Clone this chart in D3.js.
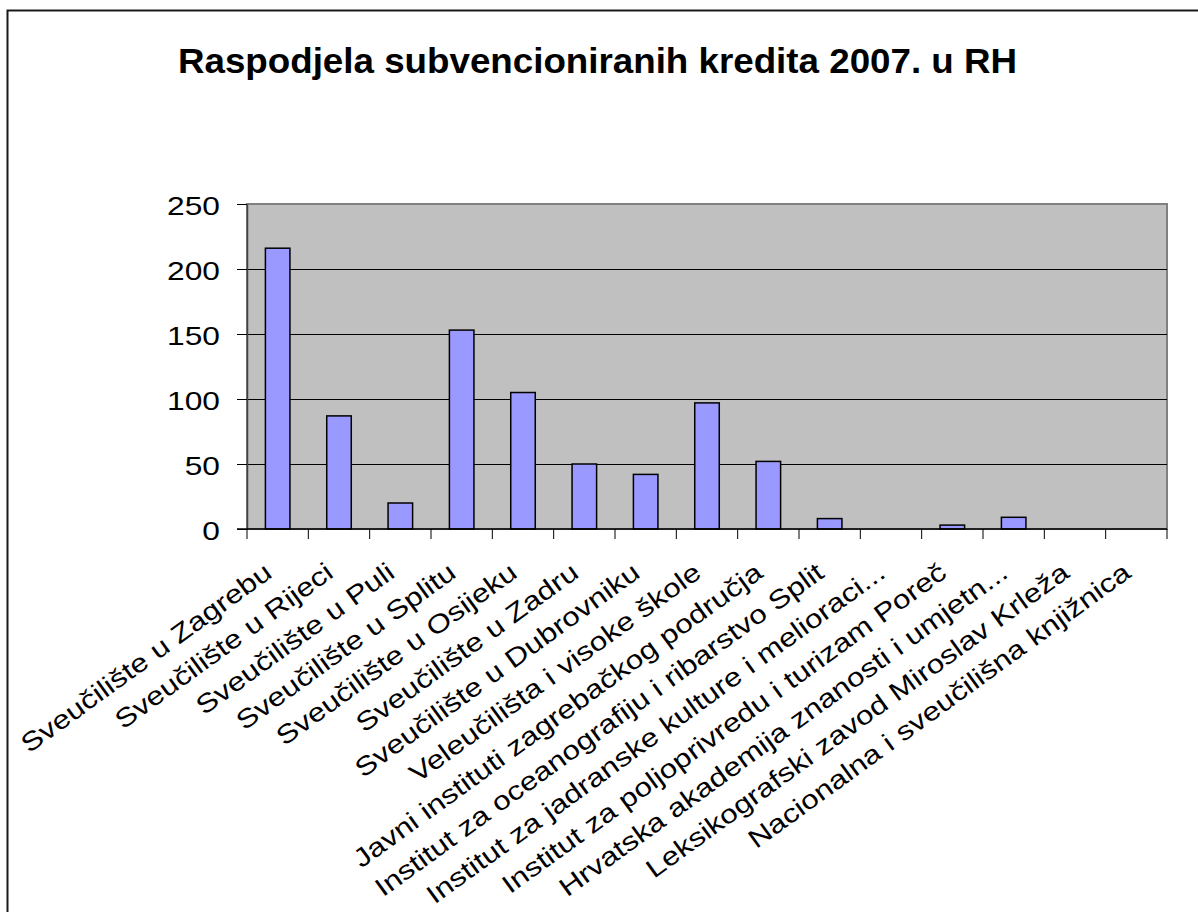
<!DOCTYPE html>
<html>
<head>
<meta charset="utf-8">
<script src="https://cdn.jsdelivr.net/npm/d3@7"></script>
<style>
  html, body { margin: 0; padding: 0; background: #fff; }
  text { font-family: "Liberation Sans", Arial, sans-serif; }
</style>
</head>
<body>
<div id="svg-container"></div>
<script>
// chart data
const chartTitle = "Raspodjela subvencioniranih kredita 2007. u RH";
const categories = [
  "Sveučilište u Zagrebu",
  "Sveučilište u Rijeci",
  "Sveučilište u Puli",
  "Sveučilište u Splitu",
  "Sveučilište u Osijeku",
  "Sveučilište u Zadru",
  "Sveučilište u Dubrovniku",
  "Veleučilišta i visoke škole",
  "Javni instituti zagrebačkog područja",
  "Institut za oceanografiju i ribarstvo Split",
  "Institut za jadranske kulture i melioraci...",
  "Institut za poljoprivredu i turizam Poreč",
  "Hrvatska akademija znanosti i umjetn...",
  "Leksikografski zavod Miroslav Krleža",
  "Nacionalna i sveučilišna knjižnica"
];
const values = [216, 87, 20, 153, 105, 50, 42, 97, 52, 8, 0, 3, 9, 0, 0];
const yTicks = [0, 50, 100, 150, 200, 250];

const totalWidth = 1198;
const totalHeight = 912;
const margin = {top: 204, right: 31, bottom: 383, left: 247};
const width = totalWidth - margin.left - margin.right;
const height = totalHeight - margin.top - margin.bottom;

const svg = d3.select("#svg-container")
              .append("svg")
              .attr("width", totalWidth)
              .attr("height", totalHeight);

// outer chart border
svg.append("rect")
   .attr("x", 7.5)
   .attr("y", 10.5)
   .attr("width", 1200)
   .attr("height", 1000)
   .attr("fill", "#fff")
   .attr("stroke", "#1a1a1a")
   .attr("stroke-width", 2);

svg.append("text")
   .attr("transform", "translate(597.5, 73) scale(1.05, 1)")
   .attr("text-anchor", "middle")
   .style("font-size", "35px")
   .style("font-weight", "bold")
   .text(chartTitle);

const g = svg.append("g")
             .attr("transform", `translate(${margin.left}, ${margin.top})`);

const x = d3.scaleBand()
            .domain(categories)
            .range([0, width])
            .paddingInner(0.6)
            .paddingOuter(0.3);

// band without padding, used for the category ticks
const xTick = d3.scaleBand()
                .domain(categories)
                .range([0, width]);

const y = d3.scaleLinear()
            .domain([0, 250])
            .range([height, 0]);

// plot background
g.append("rect")
 .attr("width", width)
 .attr("height", height)
 .attr("fill", "#c0c0c0")
 .attr("stroke", "#808080")
 .attr("stroke-width", 2);

// gridlines
g.append("g")
 .selectAll("line")
 .data(yTicks.filter(d => d > 0 && d < 250))
 .enter()
 .append("line")
 .attr("x1", 0)
 .attr("x2", width)
 .attr("y1", d => Math.round(y(d)) + 0.5)
 .attr("y2", d => Math.round(y(d)) + 0.5)
 .attr("stroke", "#000")
 .attr("stroke-width", 1);

// y axis
const yAxis = g.append("g")
               .call(d3.axisLeft(y).tickValues(yTicks).tickSize(10).tickSizeOuter(0));
yAxis.select(".domain").attr("stroke", "#404040").attr("stroke-width", 1.5);
yAxis.selectAll(".tick line").attr("stroke", "#000");
yAxis.selectAll(".tick text")
     .attr("fill", "#000")
     .attr("x", 0)
     .attr("dy", "0.42em")
     .style("font-size", "26px")
     .attr("transform", "translate(-27, 0) scale(1.22, 1)");

// bars
g.selectAll(".bar")
 .data(values)
 .enter()
 .append("rect")
 .attr("class", "bar")
 .attr("x", (d, i) => x(categories[i]))
 .attr("y", d => y(d))
 .attr("width", x.bandwidth())
 .attr("height", d => height - y(d))
 .attr("fill", "#9999ff")
 .attr("stroke", "#000")
 .attr("stroke-width", 1.5);

// x axis
const xAxis = g.append("g")
               .attr("transform", `translate(0, ${height})`);
xAxis.append("line")
     .attr("x1", -10)
     .attr("x2", width)
     .attr("stroke", "#000")
     .attr("stroke-width", 1.5);
xAxis.selectAll(".xtick")
     .data(categories.concat(["end"]))
     .enter()
     .append("line")
     .attr("class", "xtick")
     .attr("x1", (d, i) => i < categories.length ? xTick(d) : width)
     .attr("x2", (d, i) => i < categories.length ? xTick(d) : width)
     .attr("y1", 0)
     .attr("y2", 10)
     .attr("stroke", "#000")
     .attr("stroke-width", 1);

// rotated category labels
xAxis.selectAll(".xlabel")
     .data(categories)
     .enter()
     .append("text")
     .attr("class", "xlabel")
     .attr("text-anchor", "end")
     .style("font-size", "26px")
     .attr("transform", d => `translate(${xTick(d) + xTick.bandwidth() / 2 - 4}, 47) rotate(-36) scale(1.21, 1)`)
     .text(d => d);
</script>
</body>
</html>
